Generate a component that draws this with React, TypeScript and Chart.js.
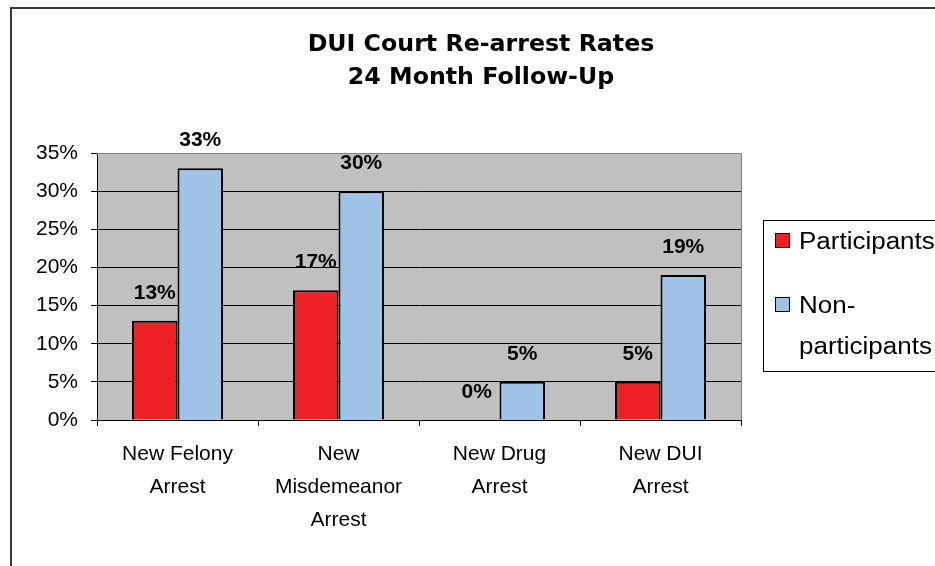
import React, { useEffect, useRef } from 'react';
import { Chart, registerables } from 'chart.js';

Chart.register(...registerables);

// ---- data ----
const categories: string[][] = [
  ['New Felony', 'Arrest'],
  ['New', 'Misdemeanor', 'Arrest'],
  ['New Drug', 'Arrest'],
  ['New DUI', 'Arrest'],
];
const participants = [13, 17, 0, 5];
const nonParticipants = [33, 30, 5, 19];
const seriesNames = ['Participants', 'Non-participants'];
const seriesColors = ['#ED2024', '#9EC3E7'];
const titleLines = ['DUI Court Re-arrest Rates', '24 Month Follow-Up'];
const yMin = 0;
const yMax = 35;
const yStep = 5;

const W = 980;
const H = 600;
const ARIAL = "'Liberation Sans', Arial, sans-serif";

const decorPlugin = {
  id: 'decor',
  beforeDraw(chart: any) {
    const { ctx, chartArea: a } = chart;
    ctx.save();
    ctx.fillStyle = '#ffffff';
    ctx.fillRect(0, 0, chart.width, chart.height);
    // outer frame
    ctx.strokeStyle = '#3a3a3a';
    ctx.lineWidth = 2;
    ctx.strokeRect(11, 8, chart.width + 20, chart.height + 20);
    // plot background
    ctx.fillStyle = '#C0C0C0';
    ctx.fillRect(a.left, a.top, a.right - a.left, a.bottom - a.top);
    ctx.restore();
  },
  afterDraw(chart: any) {
    const { ctx, chartArea: a } = chart;
    ctx.save();
    // plot border top / right (gray)
    ctx.strokeStyle = '#808080';
    ctx.lineWidth = 1;
    ctx.beginPath();
    ctx.moveTo(a.left, a.top + 0.5);
    ctx.lineTo(a.right + 0.5, a.top + 0.5);
    ctx.lineTo(a.right + 0.5, a.bottom);
    ctx.stroke();

    // data labels
    ctx.fillStyle = '#000';
    ctx.font = `bold 21px ${ARIAL}`;
    ctx.textAlign = 'center';
    ctx.textBaseline = 'alphabetic';
    chart.data.datasets.forEach((ds: any, di: number) => {
      const meta = chart.getDatasetMeta(di);
      meta.data.forEach((el: any, i: number) => {
        ctx.fillText(`${ds.data[i]}%`, el.x, el.y - 22);
      });
    });

    // title
    const cx = 481;
    ctx.font = `bold 23px 'DejaVu Sans', Verdana, sans-serif`;
    titleLines.forEach((line, i) => {
      ctx.save();
      ctx.translate(cx, 51 + i * 33);
      ctx.scale(1.03, 1);
      ctx.textAlign = 'center';
      ctx.fillText(line, 0, 0);
      ctx.restore();
    });

    // legend
    const lx = 763;
    const ly = 220;
    ctx.strokeStyle = '#000';
    ctx.lineWidth = 1;
    ctx.fillStyle = '#fff';
    ctx.fillRect(lx, ly, 220, 151);
    ctx.strokeRect(lx + 0.5, ly + 0.5, 220, 151);
    ctx.font = `23px ${ARIAL}`;
    ctx.textAlign = 'left';
    let baseline = 249;
    chart.data.datasets.forEach((ds: any, di: number) => {
      const name: string = ds.label;
      const hy = name.indexOf('-');
      const lines = hy >= 0 ? [name.slice(0, hy + 1), name.slice(hy + 1)] : [name];
      ctx.fillStyle = ds.backgroundColor;
      ctx.fillRect(775, baseline - 16, 15, 15);
      ctx.strokeStyle = '#000';
      ctx.strokeRect(775.5, baseline - 15.5, 14, 14);
      ctx.fillStyle = '#000';
      lines.forEach((ln, li) => {
        ctx.save();
        ctx.translate(799, baseline + li * 41);
        ctx.scale(1.13, 1);
        ctx.fillText(ln, 0, 0);
        ctx.restore();
      });
      baseline += 64;
    });
    ctx.restore();
  },
};

export default function App() {
  const ref = useRef<HTMLCanvasElement | null>(null);
  useEffect(() => {
    const canvas = ref.current!;
    const chart = new Chart(canvas, {
      type: 'bar',
      data: {
        labels: categories,
        datasets: [
          {
            label: seriesNames[0],
            data: participants,
            backgroundColor: seriesColors[0],
            borderColor: '#000',
            borderWidth: 2,
            categoryPercentage: 0.565,
            barPercentage: 1,
          },
          {
            label: seriesNames[1],
            data: nonParticipants,
            backgroundColor: seriesColors[1],
            borderColor: '#000',
            borderWidth: 2,
            categoryPercentage: 0.565,
            barPercentage: 1,
          },
        ],
      },
      options: {
        animation: false,
        responsive: false,
        devicePixelRatio: 1,
        layout: { padding: { left: 20, right: W - 741, top: 153, bottom: 0 } },
        plugins: {
          legend: { display: false },
          title: { display: false },
          tooltip: { enabled: false },
        },
        scales: {
          x: {
            grid: {
              offset: true,
              drawOnChartArea: false,
              drawTicks: true,
              tickLength: 6,
              color: '#000',
            },
            border: { color: '#000', width: 1 },
            ticks: {
              color: '#000',
              padding: 12,
              maxRotation: 0,
              autoSkip: false,
              font: { family: ARIAL, size: 21, lineHeight: 33 / 21 },
            },
            afterFit(scale: any) {
              scale.height = H - 420;
            },
          },
          y: {
            min: yMin,
            max: yMax,
            grid: {
              color: (c: any) => (c.tick && c.tick.value === yMax ? '#808080' : '#000'),
              tickColor: '#000',
              tickLength: 6,
              drawTicks: true,
            },
            border: { color: '#000', width: 1 },
            ticks: {
              stepSize: yStep,
              color: '#000',
              padding: 13,
              font: { family: ARIAL, size: 21 },
              callback: (v: any) => `${v}%`,
            },
            afterFit(scale: any) {
              scale.width = 77;
            },
          },
        },
      },
      plugins: [decorPlugin],
    } as any);
    return () => chart.destroy();
  }, []);

  return (
    <div style={{ position: 'fixed', left: 0, top: 0, width: W, height: H }}>
      <canvas ref={ref} width={W} height={H} style={{ width: W, height: H, display: 'block' }} />
    </div>
  );
}
